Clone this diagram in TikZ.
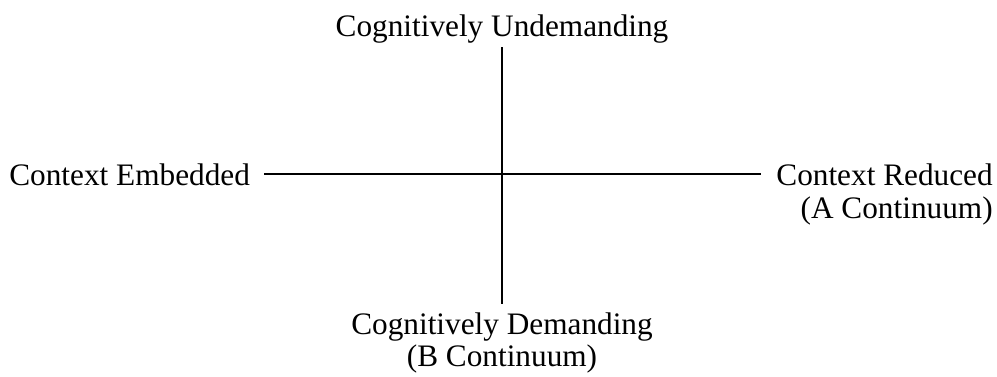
\documentclass[tikz,border=0pt]{standalone}
\usepackage{fontspec}
\setmainfont{Liberation Serif}
\usepackage{tikz}

\begin{document}
\begin{tikzpicture}[x=0.02cm, y=-0.02cm,
    axislabel/.style={font=\fontsize{17.8pt}{21pt}\selectfont, inner sep=0pt},
    axis/.style={line width=1.1pt}]
  \useasboundingbox (0,0) rectangle (997,376);

  % labels of the A continuum
  \node[axislabel, anchor=base west] (embedded) at (9,185) {Context Embedded};
  \node[axislabel, anchor=base east] (reduced) at (993,185) {Context Reduced};
  \node[axislabel, anchor=base east] (acont) at (993,218) {(A Continuum)};

  % labels of the B continuum
  \node[axislabel, anchor=base] (undemanding) at (502,36) {Cognitively Undemanding};
  \node[axislabel, anchor=base] (demanding) at (502,334) {Cognitively Demanding};
  \node[axislabel, anchor=base] (bcont) at (502,366) {(B Continuum)};

  \draw[axis, shorten <=0.28cm, shorten >=0.3cm] (embedded.east) -- (reduced.west);
  \draw[axis, shorten <=0.08cm, shorten >=0.15cm] (undemanding.south) -- (demanding.north);
\end{tikzpicture}
\end{document}
